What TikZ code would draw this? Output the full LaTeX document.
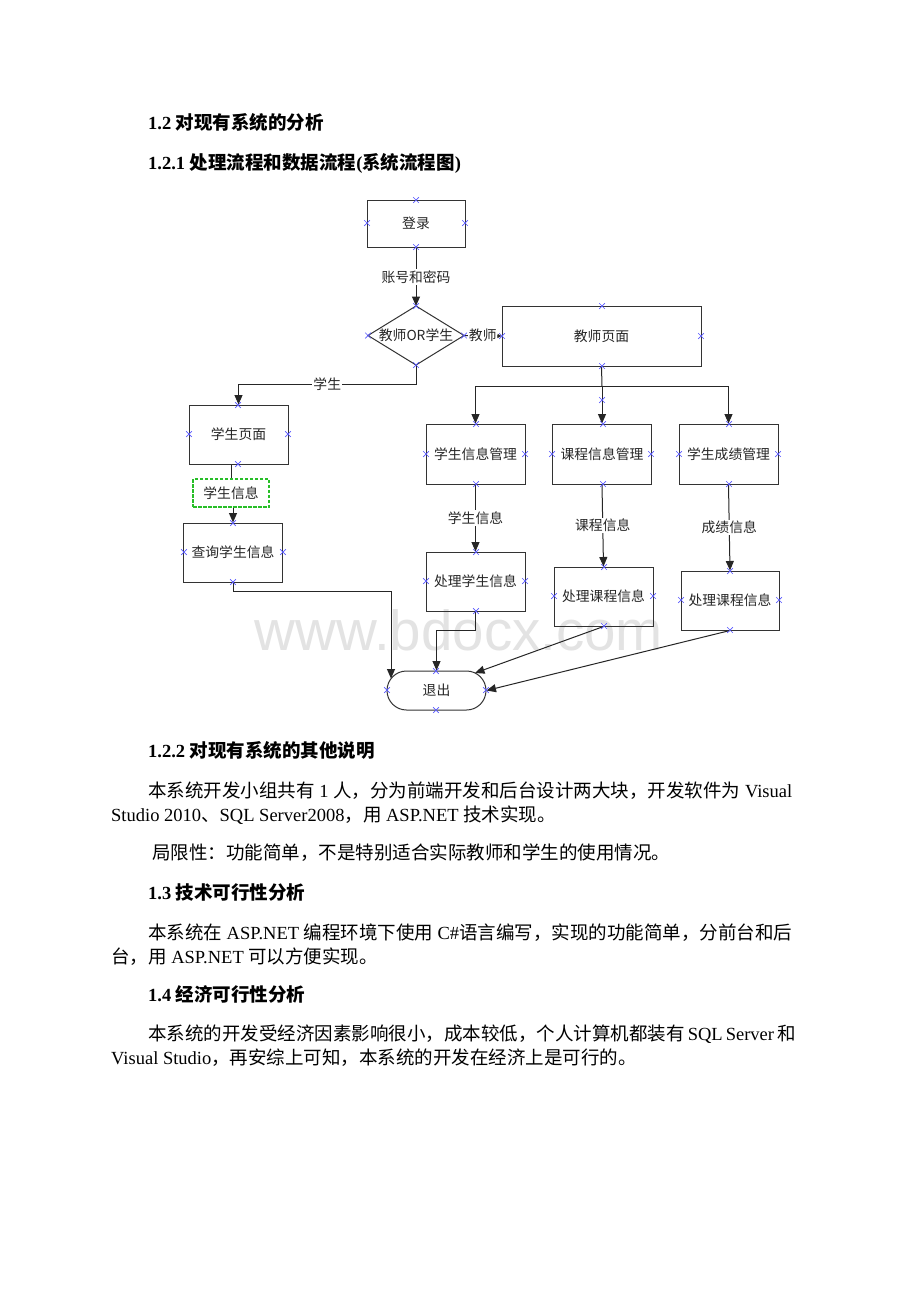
\documentclass[tikz,border=0pt]{standalone}
\usepackage{fontspec}
\setmainfont{Liberation Serif}
\newfontfamily\cjk{Noto Sans CJK SC}
\newfontfamily\wmfont{Liberation Sans}
\usetikzlibrary{arrows.meta,shapes.misc}
\definecolor{dashgreen}{RGB}{40,190,40}
\XeTeXlinebreaklocale "zh"
\XeTeXlinebreakskip=0pt plus 1pt
\begin{document}
\begin{tikzpicture}[x=1pt,y=-1pt,
  box/.style={draw=black!80, line width=1pt, minimum width=99pt, minimum height=59pt, inner sep=0pt,
    font=\cjk\fontsize{13.8}{16}\selectfont, text=black!85},
  conn/.style={draw=black!85, line width=1pt},
  arr/.style={conn, -{Triangle[length=9.5pt,width=8pt]}},
  lbl/.style={fill=white, inner sep=1.5pt, font=\cjk\fontsize{13.8}{16}\selectfont, text=black!85},
  xm/.style={cross out, draw=blue!65, line width=0.7pt, minimum size=5pt, inner sep=0pt},
  body/.style={anchor=base west, inner sep=0pt, font=\fontsize{18.5}{22}\selectfont},
  head/.style={anchor=base west, inner sep=0pt, font=\fontsize{18.5}{22}\selectfont\bfseries}]
\useasboundingbox[fill=white] (0,0) rectangle (920,1302);

% watermark
\node[font=\wmfont\fontsize{56.5}{60}\selectfont, text=black!11, anchor=base, inner sep=0pt] (wm) at (459,650) {www.bdocx.com};

% headings above
\node[head] (h12) at (148,129) {1.2 {\cjk 对现有系统的分析}};
\node[head] (h121) at (148,169) {1.2.1 {\cjk 处理流程和数据流程}({\cjk 系统流程图})};

% diagram nodes
\node[box, minimum width=98pt, minimum height=47pt] (login) at (416,223.5) {登录};
\draw[draw=black!80, line width=1pt] (416,306) -- (464,335.5) -- (416,365) -- (368,335.5) -- cycle;
\node[font=\cjk\fontsize{13.8}{16}\selectfont, text=black!85, inner sep=0pt] (dec) at (416,335.5) {教师OR学生};
\coordinate (decN) at (416,306);
\coordinate (decS) at (416,365);
\coordinate (decE) at (464,335.5);
\coordinate (decW) at (368,335.5);
\node[box, minimum width=199pt, minimum height=60pt] (teacher) at (601.5,336) {教师页面};
\node[box] (sp) at (238.5,434.5) {学生页面};
\node[box, minimum width=76pt, minimum height=28pt, draw=dashgreen, line width=1.3pt, dash pattern=on 3.5pt off 1.5pt] (dash) at (231,493) {学生信息};
\node[box] (query) at (233,552.5) {查询学生信息};
\node[box, minimum height=60pt] (m1) at (475.5,454) {学生信息管理};
\node[box, minimum height=60pt] (m2) at (602,454) {课程信息管理};
\node[box, minimum height=60pt] (m3) at (728.5,454) {学生成绩管理};
\node[box] (p1) at (475.5,581.5) {处理学生信息};
\node[box] (p2) at (603.5,596.5) {处理课程信息};
\node[box, minimum width=98pt] (p3) at (730,600.5) {处理课程信息};
\node[box, rounded rectangle, minimum width=99pt, minimum height=39pt] (exit) at (436.5,690.5) {退出};

% connectors
\draw[arr] (login.south) -- node[lbl]{账号和密码} (decN);
\draw[conn, -{Triangle[length=4pt,width=4pt]}] (decE) -- node[lbl, inner sep=0.5pt]{教师} (teacher.west);
\coordinate (j1) at (416,384);
\draw[arr] (decS) -- (j1) -| node[lbl, pos=0.25, inner sep=1pt]{学生} (sp.north);
\coordinate (j2) at (602,386);
\draw[conn] (teacher.south) -- (j2);
\draw[arr] (j2) -- (m2.north);
\draw[arr] (j2) -| (m1.north);
\draw[arr] (j2) -| (m3.north);
\draw[arr] (m1.south) -- node[lbl]{学生信息} (p1.north);
\draw[arr] (m2.south) -- node[lbl]{课程信息} (p2.north);
\draw[arr] (m3.south) -- node[lbl]{成绩信息} (p3.north);
\draw[conn] (dash.north |- sp.south) -- (dash.north);
\draw[arr] (query.north |- dash.south) -- (query.north);
\coordinate (e1) at (391,678.5);
\coordinate (e2) at (475,673);
\draw[arr] (query.south) -- ++(0,9) -| (e1);
\draw[arr] (p1.south) -- ++(0,18.5) -| (exit.north);
\draw[arr] (p2.south) -- (e2);
\draw[arr] (p3.south) -- (exit.east);

% connection markers
\foreach \p in {(416,200),(367,223),(465,223),(416,247),
  (416,306),(368,335.5),(464,335.5),(416,365),
  (602,306),(502,336),(701,336),(602,366),(602,400),
  (238,405),(189,434),(288,434),(238,464),
  (233,523),(184,552),(283,552),(233,582),
  (476,424),(426,454),(525,454),(476,484),
  (603,424),(552,454),(651,454),(603,484),
  (729,424),(679,454),(778,454),(729,484),
  (476,552),(426,581),(525,581),(476,611),
  (604,567),(554,596),(653,596),(604,626),
  (730,571),(681,600),(779,600),(730,630),
  (436,671),(387,690),(486,690),(436,710)}
  \node[xm] at \p {};

% text below
\node[head] (h122) at (148,757) {1.2.2 {\cjk 对现有系统的其他说明}};
\node[body] (t1) at (148,797) {\makebox[644pt][s]{{\cjk 本系统开发小组共有} 1 {\cjk 人，分为前端开发和后台设计两大块，开发软件为} Visual}};
\node[body] (t2) at (111,821) {Studio 2010{\cjk 、}SQL Server2008{\cjk ，用} ASP.NET {\cjk 技术实现。}};
\node[body] (t3) at (152,859) {{\cjk 局限性：功能简单，不是特别适合实际教师和学生的使用情况。}};
\node[head] (h13) at (148,899) {1.3 {\cjk 技术可行性分析}};
\node[body] (t4) at (148,939) {\makebox[644pt][s]{{\cjk 本系统在} ASP.NET {\cjk 编程环境下使用} C\#{\cjk 语言编写，实现的功能简单，分前台和后}}};
\node[body] (t5) at (111,963) {{\cjk 台，用} ASP.NET {\cjk 可以方便实现。}};
\node[head] (h14) at (148,1001) {1.4 {\cjk 经济可行性分析}};
\node[body] (t6) at (148,1040) {\makebox[644pt][s]{{\cjk 本系统的开发受经济因素影响很小，成本较低，个人计算机都装有} SQL Server {\cjk 和}}};
\node[body] (t7) at (111,1064) {Visual Studio{\cjk ，再安综上可知，本系统的开发在经济上是可行的。}};
\end{tikzpicture}
\end{document}
